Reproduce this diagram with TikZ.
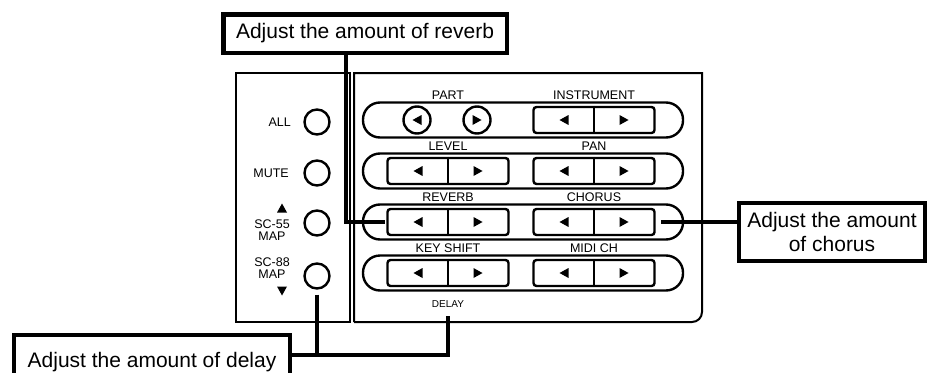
\documentclass[tikz,border=0pt]{standalone}
\usepackage{fontspec}
\setmainfont{Liberation Sans}
\usetikzlibrary{positioning, calc}

% small filled arrow heads on the buttons
\newcommand{\arrL}[1]{\fill ($(#1)+(-4.5,0)$) -- ++(9,-5) -- ++(0,10) -- cycle;}
\newcommand{\arrR}[1]{\fill ($(#1)+(4.5,0)$) -- ++(-9,-5) -- ++(0,10) -- cycle;}
\newcommand{\arrU}[1]{\fill ($(#1)+(0,-4.5)$) -- ++(5,9) -- ++(-10,0) -- cycle;}
\newcommand{\arrD}[1]{\fill ($(#1)+(0,4.5)$) -- ++(5,-9) -- ++(-10,0) -- cycle;}

\tikzset{
  panel/.style={line width=2pt},
  pill/.style={draw, line width=2.4pt, rounded corners=17pt, minimum width=320pt, minimum height=35pt},
  pairbox/.style={draw, line width=2.4pt, rounded corners=3pt, minimum width=121pt, minimum height=26pt},
  roundbtn/.style={draw, circle, line width=2.4pt, minimum size=25pt, inner sep=0pt},
  partbtn/.style={draw, circle, line width=2.4pt, minimum size=27pt, inner sep=0pt},
  lbl/.style={font=\fontsize{12.5}{12}\selectfont, inner sep=0pt},
  callout/.style={draw, line width=4.5pt, font=\fontsize{21}{24}\selectfont, inner sep=0pt, align=center},
  leader/.style={line width=4.5pt},
}

\begin{document}
\begin{tikzpicture}[x=1pt, y=-1pt]
  \clip (0,0) rectangle (928,372);

  % the two panels
  \draw[panel] (236,73) rectangle (350,322);
  \draw[panel] (354,322) -- (354,73) -- (702,73) [rounded corners=10pt] -- (702,322) -- (354,322);

  % left column
  \node[roundbtn] (allbtn)  at (317,122) {};
  \node[roundbtn] (mutebtn) at (317,173) {};
  \node[roundbtn] (sc55btn) at (317,223) {};
  \node[roundbtn] (sc88btn) at (317,276) {};
  \node[lbl, anchor=east] (alllbl)  at (291,122) {ALL};
  \node[lbl, anchor=east] (mutelbl) at (289,173) {MUTE};
  \node[lbl, align=center] (sc55lbl) at (272,230.5) {SC-55\\MAP};
  \node[lbl, align=center] (sc88lbl) at (272,268) {SC-88\\MAP};
  \arrU{282,208}
  \arrD{282,291}

  % button rows
  \foreach \y/\ltxt/\rtxt [count=\i] in {120/PART/INSTRUMENT, 171/LEVEL/PAN, 222/REVERB/CHORUS, 273/KEY SHIFT/MIDI CH} {
    \node[pill] (row\i) at (523,\y) {};
    \node[lbl] (lt\i) at (448,\y-25) {\ltxt};
    \node[lbl] (rt\i) at (594,\y-25) {\rtxt};
    \node[pairbox] (rp\i) at (594,\y) {};
    \draw[line width=2.4pt] (rp\i.north) -- (rp\i.south);
    \arrL{564,\y}
    \arrR{624,\y}
  }
  \foreach \y [count=\i from 2] in {171, 222, 273} {
    \node[pairbox] (lp\i) at (448,\y) {};
    \draw[line width=2.4pt] (lp\i.north) -- (lp\i.south);
    \arrL{418,\y}
    \arrR{478,\y}
  }
  \node[partbtn] (partl) at (417,120) {};
  \node[partbtn] (partr) at (477,120) {};
  \arrL{partl.center}
  \arrR{partr.center}
  \node[lbl, font=\fontsize{10}{10}\selectfont] (delaylbl) at (448,304) {DELAY};

  % callouts
  \node[callout, minimum width=283.5pt, minimum height=38.5pt] (reverb) at (365,33.5) {Adjust the amount of reverb};
  \node[callout, minimum width=186pt, minimum height=58pt] (chorus) at (832,232) {Adjust the amount\\of chorus};
  \node[callout, minimum width=276pt, minimum height=57pt, text depth=8pt] (delay) at (152,363.5) {Adjust the amount of delay};

  \coordinate (revend) at (385,222);
  \coordinate (chorend) at (661,222);
  \coordinate (dlyjoin) at (317,355);
  \coordinate (dlyend) at ([yshift=-8pt]delaylbl.south);

  \draw[leader] (reverb.south -| 346,0) |- (revend);
  \draw[leader] (chorus.west |- chorend) -- (chorend);
  \draw[leader] (delay.east |- dlyjoin) -- (dlyjoin) -| (dlyend);
  \draw[leader, shorten <=5pt] (sc88btn.south) -- (dlyjoin);
\end{tikzpicture}
\end{document}
